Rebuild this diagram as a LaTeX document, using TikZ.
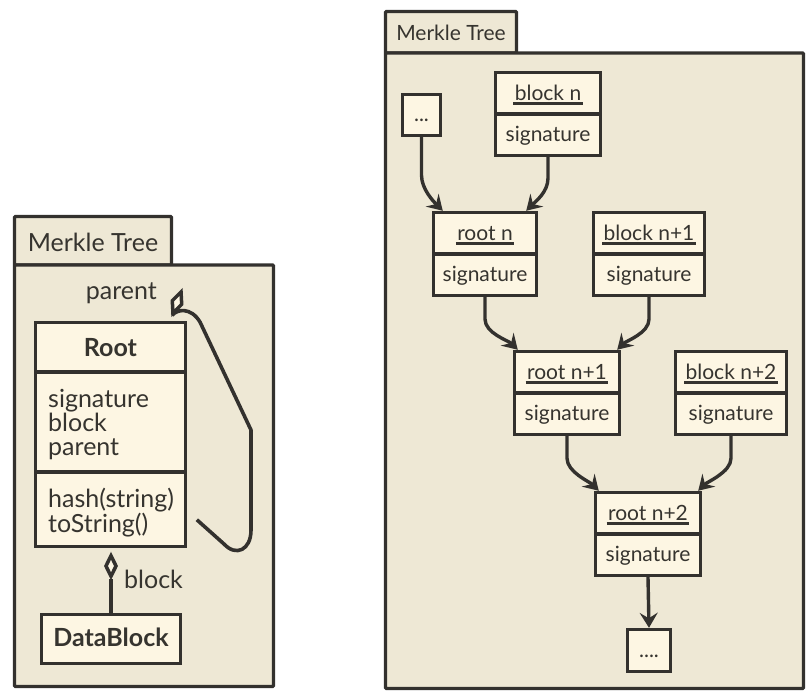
\documentclass[tikz,border=0pt]{standalone}
\usepackage{fontspec}
\setmainfont{Lato}
\usetikzlibrary{arrows.meta,calc,shapes.geometric}
\definecolor{pkgfill}{HTML}{EEE8D5}
\definecolor{clsfill}{HTML}{FDF6E3}
\definecolor{ink}{HTML}{33312E}
\definecolor{txt}{HTML}{36342F}
\newcommand\leftsize{\fontsize{25}{29}\selectfont}
\newcommand\rightsize{\fontsize{21}{25}\selectfont}
% object name: underlined with a heavy rule
\newcommand\objname[1]{\vtop{\hbox{\kern1.5pt#1\kern1.5pt}\kern1.8pt\hrule height 2.8pt}}
\tikzset{
  pkgtab/.style={draw=ink, fill=pkgfill, line width=3.4pt, inner sep=0pt, rounded corners=1pt, text=txt},
  pkgbody/.style={draw=ink, fill=pkgfill, line width=3.4pt, inner sep=0pt, rounded corners=1pt},
  cellL/.style={draw=ink, fill=clsfill, line width=3.7pt, inner sep=0pt, text=txt, font=\leftsize},
  cellR/.style={draw=ink, fill=clsfill, line width=3.4pt, inner sep=0pt, text=txt, font=\rightsize, text height=17pt, text depth=3pt},
  link/.style={draw=ink, line width=3.4pt, -{Stealth[length=15pt,width=18pt,inset=5.5pt]}},
  assoc/.style={draw=ink, line width=3.6pt, line join=round},
  dia/.style={diamond, draw=ink, fill=clsfill, line width=3.5pt, inner sep=0pt, minimum width=11.5pt, minimum height=22pt},
  txtL/.style={text=txt, font=\leftsize, inner sep=0pt},
}
\begin{document}
\begin{tikzpicture}[x=1pt,y=-1pt]
\useasboundingbox (0,0) rectangle (812,698);

% ---------- class view ----------
\node[pkgtab, font=\leftsize, minimum width=157, minimum height=48.5, text height=25pt, text depth=3pt] (ltab) at (93,240.75) {Merkle Tree};
\node[pkgbody, minimum width=259, minimum height=421.5] (lbody) at (144,475.75) {};

\node[cellL, minimum width=150, minimum height=49.5, text height=22pt, text depth=3pt, font=\leftsize\bfseries] (rootH) at (110.5,347.25) {Root};
\node[cellL, minimum width=150, minimum height=100] (rootA) at (110.5,422) {};
\node[cellL, minimum width=150, minimum height=74.5] (rootM) at (110.5,509.25) {};
\node[txtL, anchor=base west] (attr1) at (48,407) {signature};
\node[txtL, anchor=base west] (attr2) at (48,431) {block};
\node[txtL, anchor=base west] (attr3) at (48,455) {parent};
\node[txtL, anchor=base west] (meth1) at (48,507) {hash(string)};
\node[txtL, anchor=base west] (meth2) at (48,532) {toString()};

\node[cellL, minimum width=139, minimum height=49, text height=18.5pt, text depth=3pt, font=\leftsize\bfseries] (data) at (111,639) {DataBlock};

% aggregation Root -> DataBlock
\node[dia] (blockdia) at (111,566) {};
\draw[assoc] (data.north) -- (blockdia.south);
\node[txtL, anchor=base west] (blocklbl) at (124,588) {block};

% self aggregation on parent
\node[dia, rotate=-21, minimum height=24pt] (parentdia) at (177,302.5) {};
\draw[assoc] (parentdia.south) .. controls (177,309) and (191,307) .. (200,322)
  -- (251,430) -- (251,530) .. controls (251,550) and (236,557) .. (224,544)
  -- ($(rootM.east)+(9.5,10.5)$);
\node[txtL, anchor=base east] (parentlbl) at (157,299) {parent};

% ---------- object chain ----------
\node[pkgtab, font=\rightsize, minimum width=131, minimum height=41.5, text height=20pt, text depth=3pt] (rtab) at (451,32.25) {Merkle Tree};
\node[pkgbody, minimum width=418, minimum height=635.5] (rbody) at (594.5,370.75) {};

\node[cellR, minimum width=38, minimum height=41] (dotsA) at (421.5,115) {...};

\node[cellR, minimum width=105, minimum height=41.5] (blocknH) at (548,93.25) {\objname{block n}};
\node[cellR, minimum width=105, minimum height=41.5] (blocknB) at (548,134.75) {signature};

\node[cellR, minimum width=103, minimum height=41.5] (rootnH) at (485,233.25) {\objname{root n}};
\node[cellR, minimum width=103, minimum height=41.5] (rootnB) at (485,274.75) {signature};

\node[cellR, minimum width=111, minimum height=41.5] (blockaH) at (649,233.25) {\objname{block n+1}};
\node[cellR, minimum width=111, minimum height=41.5] (blockaB) at (649,274.75) {signature};

\node[cellR, minimum width=105, minimum height=41.5] (rootaH) at (567,372.25) {\objname{root n+1}};
\node[cellR, minimum width=105, minimum height=41.5] (rootaB) at (567,413.75) {signature};

\node[cellR, minimum width=111, minimum height=41.5] (blockbH) at (731,372.25) {\objname{block n+2}};
\node[cellR, minimum width=111, minimum height=41.5] (blockbB) at (731,413.75) {signature};

\node[cellR, minimum width=105, minimum height=41.5] (rootbH) at (648,513.25) {\objname{root n+2}};
\node[cellR, minimum width=105, minimum height=41.5] (rootbB) at (648,554.75) {signature};

\node[cellR, minimum width=43, minimum height=42] (dotsB) at (649,650.5) {....};

% links
\draw[link] (dotsA.south) -- ++(0,38) .. controls +(0,14) and +(-9,-9) .. ($(rootnH.north west)+(11,0)$);
\draw[link] (blocknB.south) -- ++(0,21) .. controls +(0,14) and +(9,-9) .. ($(rootnH.north east)+(-12,0)$);
\draw[link] (rootnB.south) -- ++(0,22) .. controls +(0,14) and +(-9,-9) .. ($(rootaH.north west)+(5,0)$);
\draw[link] (blockaB.south) -- ++(0,22) .. controls +(0,14) and +(9,-9) .. ($(rootaH.north east)+(-4,0)$);
\draw[link] (rootaB.south) -- ++(0,22) .. controls +(0,14) and +(-9,-9) .. ($(rootbH.north west)+(5,0)$);
\draw[link] (blockbB.south) -- ++(0,22) .. controls +(0,14) and +(9,-9) .. ($(rootbH.north east)+(-4,0)$);
\draw[link] (rootbB.south) -- (dotsB.north);
\end{tikzpicture}
\end{document}
